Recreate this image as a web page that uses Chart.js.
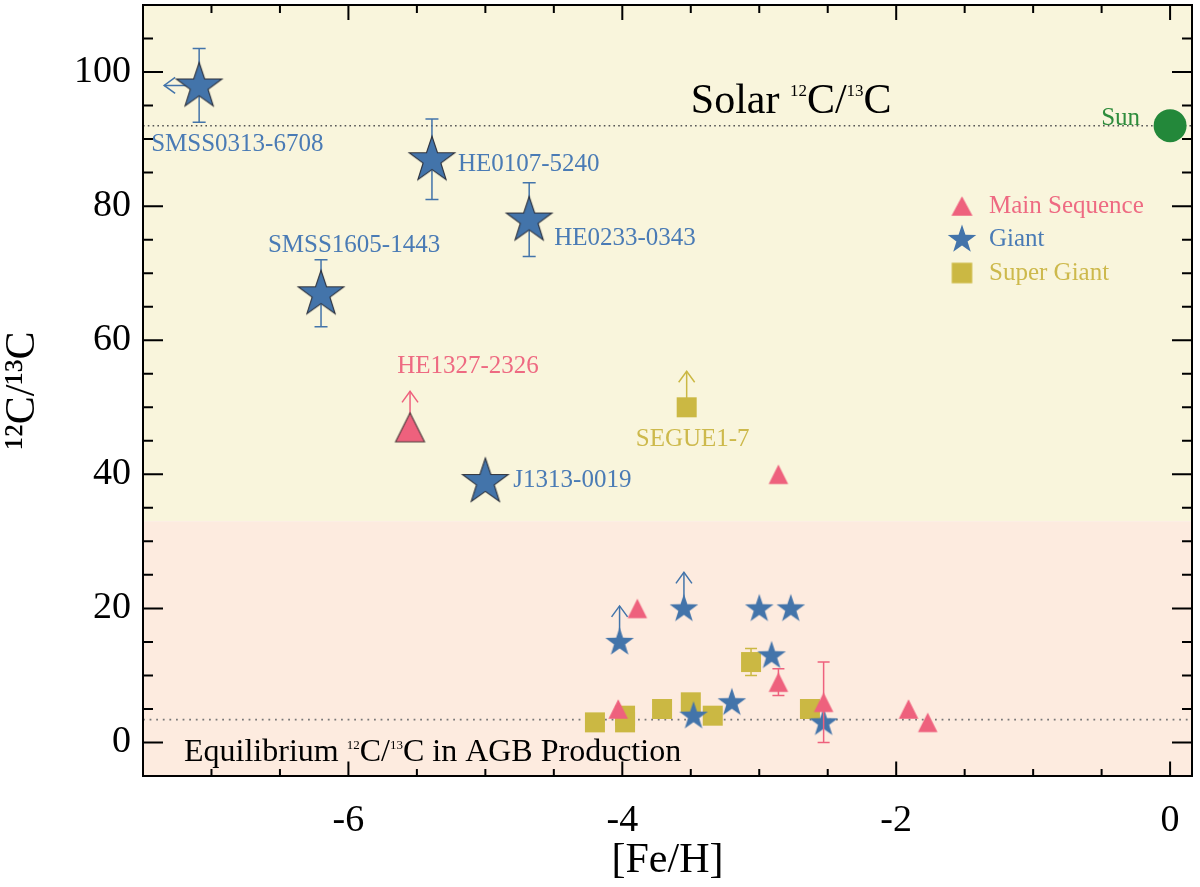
<!DOCTYPE html>
<html>
<head>
<meta charset="utf-8">
<script src="https://cdn.jsdelivr.net/npm/chart.js@4.4.1/dist/chart.umd.min.js"></script>
<style>
html,body{margin:0;padding:0;background:#fff;}
#wrap{width:1200px;height:887px;}
</style>
</head>
<body>
<div id="wrap"><canvas id="c" width="1200" height="887"></canvas></div>
<script>
// ---------------- data ----------------
const mainSeqFeH   = [-5.55, -2.86, -3.89, -4.03, -2.86, -2.53, -1.91, -1.77];
const mainSeqRatio = [47, 40, 20, 5, 9, 6, 5, 3];
const mainSeqErr   = [0, 0, 0, 0, 2, 6, 0, 0];
const mainSeqLimit = ['up', '', '', '', '', '', '', ''];
const mainSeqName  = ['HE1327-2326', '', '', '', '', '', '', ''];

const giantFeH   = [-7.09, -5.39, -4.68, -6.20, -5.00, -4.02, -3.55, -3.00, -2.77, -2.91, -3.20, -3.48, -2.53];
const giantRatio = [98, 87, 78, 67, 39, 15, 20, 20, 20, 13, 6, 4, 3];
const giantErr   = [5.5, 6, 5.5, 5, 0, 0, 0, 0, 0, 0, 0, 0, 0];
const giantLimit = ['left', '', '', '', '', 'up', 'up', '', '', '', '', '', ''];
const giantName  = ['SMSS0313-6708', 'HE0107-5240', 'HE0233-0343', 'SMSS1605-1443', 'J1313-0019', '', '', '', '', '', '', '', ''];

const superGiantFeH   = [-3.53, -4.20, -3.98, -3.98, -3.71, -3.50, -3.34, -3.06, -2.63];
const superGiantRatio = [50, 3, 4, 3, 5, 6, 4, 12, 5];
const superGiantErr   = [0, 0, 0, 0, 0, 0, 0, 2, 0];
const superGiantLimit = ['up', '', '', '', '', '', '', '', ''];
const superGiantName  = ['SEGUE1-7', '', '', '', '', '', '', '', ''];

const sunFeH   = [0];
const sunRatio = [92];
const sunName  = ['Sun'];

const solarRatio  = 92;
const agbRatio    = 3.4;
const regionSplit = 33;

const seriesNames = ['Main Sequence', 'Giant', 'Super Giant'];
const xTickValues = [-6, -4, -2, 0];
const yTickValues = [0, 20, 40, 60, 80, 100];
const xMinorStep = 0.5;
const yMinorStep = 5;

// ---------------- styles / layout ----------------
const SERIF = "'Liberation Serif', 'Times New Roman', serif";
const COL = {ms:'#ee617d', g:'#4374aa', sg:'#cbb843', sun:'#23883a'};
const TXT = {ms:'#ee6a82', g:'#4a7bb5', sg:'#cdb94c', sun:'#2e8c3c'};
const labelLayout = {
  'SMSS0313-6708': {dx:-48, dy:59, align:'left'},
  'HE0107-5240':   {dx:26,  dy:5,  align:'left'},
  'HE0233-0343':   {dx:25,  dy:19, align:'left'},
  'SMSS1605-1443': {dx:33,  dy:-48, align:'center'},
  'J1313-0019':    {dx:28,  dy:-1, align:'left'},
  'HE1327-2326':   {dx:58,  dy:-61, align:'center'},
  'SEGUE1-7':      {dx:6,   dy:32, align:'center'},
  'Sun':           {dx:-30, dy:-7, align:'right'}
};

// ---------------- marker images ----------------
function mk(w, h) { const c = document.createElement('canvas'); c.width = w; c.height = h; return c; }
function makeStar(R, fill, stroke) {
  const s = Math.ceil(2 * R + 4); const c = mk(s, s); const ctx = c.getContext('2d');
  const cx = s / 2, cy = s / 2 + 0.04 * R, r = R * 0.39;
  ctx.beginPath();
  for (let i = 0; i < 10; i++) {
    const a = -Math.PI / 2 + i * Math.PI / 5, rr = i % 2 ? r : R;
    ctx.lineTo(cx + rr * Math.cos(a), cy + rr * Math.sin(a));
  }
  ctx.closePath(); ctx.fillStyle = fill; ctx.fill();
  if (stroke) { ctx.lineWidth = 1.1; ctx.strokeStyle = stroke; ctx.lineJoin = 'miter'; ctx.stroke(); }
  return c;
}
function makeTri(w, h, fill, stroke) {
  const cw = Math.ceil(w + 4), ch = Math.ceil(h + 4); const c = mk(cw, ch); const ctx = c.getContext('2d');
  const cx = cw / 2, cy = ch / 2;
  ctx.beginPath(); ctx.moveTo(cx, cy - h / 2); ctx.lineTo(cx + w / 2, cy + h / 2); ctx.lineTo(cx - w / 2, cy + h / 2); ctx.closePath();
  ctx.fillStyle = fill; ctx.fill();
  if (stroke) { ctx.lineWidth = 1.1; ctx.strokeStyle = stroke; ctx.stroke(); }
  return c;
}
function makeSq(sz, fill) {
  const s = Math.ceil(sz + 2); const c = mk(s, s); const ctx = c.getContext('2d');
  ctx.fillStyle = fill; ctx.fillRect((s - sz) / 2, (s - sz) / 2, sz, sz); return c;
}
const IMG = {
  starBig: makeStar(24, COL.g, '#2b2f3a'),
  starSmall: makeStar(15, COL.g, null),
  starLegend: makeStar(15, COL.g, null),
  triBig: makeTri(29, 29, COL.ms, '#4a3a3a'),
  triSmall: makeTri(19.5, 19.5, COL.ms, null),
  triLegend: makeTri(21, 19.5, COL.ms, null),
  sq: makeSq(20, COL.sg),
  sqLegend: makeSq(20.5, COL.sg)
};

function pts(xs, ys) { return xs.map((x, i) => ({x: x, y: ys[i]})); }

// ---------------- helpers ----------------
function drawRich(ctx, parts, x, baseline, main, sup, color) {
  ctx.save(); ctx.fillStyle = color; ctx.textAlign = 'left'; ctx.textBaseline = 'alphabetic';
  const raise = 0.662 * main - 0.676 * sup;
  let cx = x;
  for (const [t, isSup] of parts) {
    ctx.font = (isSup ? sup : main) + 'px ' + SERIF;
    ctx.fillText(t, cx, isSup ? baseline - raise : baseline);
    cx += ctx.measureText(t).width;
  }
  ctx.restore();
}
function arrowHead(ctx, tx, ty, dir) {
  const L = 11, W = 8;
  ctx.beginPath();
  if (dir === 'up') { ctx.moveTo(tx - W, ty + L); ctx.lineTo(tx, ty); ctx.lineTo(tx + W, ty + L); }
  else { ctx.moveTo(tx + L, ty - W); ctx.lineTo(tx, ty); ctx.lineTo(tx + L, ty + W); }
  ctx.stroke();
}

const deco = {
  id: 'deco',
  beforeDatasetsDraw(chart) {
    const {ctx, chartArea: a, scales: {x: xs, y: ys}} = chart;
    const sp = ys.getPixelForValue(regionSplit);
    ctx.save();
    ctx.fillStyle = '#f9f5dc'; ctx.fillRect(a.left, a.top, a.right - a.left, sp - a.top);
    ctx.fillStyle = '#fdebdf'; ctx.fillRect(a.left, sp, a.right - a.left, a.bottom - sp);
    ctx.strokeStyle = '#555'; ctx.lineWidth = 1.6;
    ctx.setLineDash([1.6, 3.2]);
    let py = ys.getPixelForValue(solarRatio);
    ctx.beginPath(); ctx.moveTo(a.left, py); ctx.lineTo(a.right, py); ctx.stroke();
    ctx.strokeStyle = '#777'; ctx.lineWidth = 1.8; ctx.setLineDash([1.8, 4.8]);
    py = ys.getPixelForValue(agbRatio);
    ctx.beginPath(); ctx.moveTo(a.left, py); ctx.lineTo(a.right, py); ctx.stroke();
    ctx.restore();
  },
  beforeDatasetDraw(chart, args) {
    const ds = chart.data.datasets[args.index];
    if (!ds.errors && !ds.limits) return;
    const {ctx, scales: {y: ys}} = chart;
    ctx.save(); ctx.strokeStyle = ds.borderColor; ctx.lineWidth = 1.5; ctx.setLineDash([]);
    args.meta.data.forEach((el, i) => {
      const e = ds.errors ? ds.errors[i] : 0;
      const v = ds.data[i].y;
      if (e > 0) {
        const y1 = ys.getPixelForValue(v - e), y2 = ys.getPixelForValue(v + e);
        const cw = ds.names[i] ? 6.5 : 6;
        ctx.beginPath();
        ctx.moveTo(el.x, y1); ctx.lineTo(el.x, y2);
        ctx.moveTo(el.x - cw, y1); ctx.lineTo(el.x + cw, y1);
        ctx.moveTo(el.x - cw, y2); ctx.lineTo(el.x + cw, y2);
        ctx.stroke();
      }
      const lim = ds.limits ? ds.limits[i] : '';
      if (lim === 'up') {
        ctx.beginPath(); ctx.moveTo(el.x, el.y); ctx.lineTo(el.x, el.y - 36); ctx.stroke();
        arrowHead(ctx, el.x, el.y - 36, 'up');
      } else if (lim === 'left') {
        ctx.beginPath(); ctx.moveTo(el.x, el.y); ctx.lineTo(el.x - 35, el.y); ctx.stroke();
        arrowHead(ctx, el.x - 35, el.y, 'left');
      }
    });
    ctx.restore();
  },
  afterDatasetsDraw(chart) {
    const {ctx, chartArea: a, scales: {x: xs, y: ys}} = chart;
    ctx.save();
    chart.data.datasets.forEach((ds, di) => {
      const meta = chart.getDatasetMeta(di);
      (ds.names || []).forEach((n, i) => {
        if (!n) return;
        const L = labelLayout[n] || {dx: 20, dy: 0, align: 'left'};
        const el = meta.data[i];
        ctx.font = '25px ' + SERIF; ctx.fillStyle = ds.textColor;
        ctx.textAlign = L.align; ctx.textBaseline = 'middle';
        ctx.fillText(n, el.x + L.dx, el.y + L.dy);
      });
    });
    drawRich(ctx, [['Solar ', 0], ['12', 1], ['C/', 0], ['13', 1], ['C', 0]],
      xs.getPixelForValue(-3.5), ys.getPixelForValue(solarRatio) - 13, 42, 17, '#000');
    drawRich(ctx, [['Equilibrium ', 0], ['12', 1], ['C/', 0], ['13', 1], ['C in AGB Production', 0]],
      a.left + 41, a.bottom - 15, 32, 13, '#000');
    const lx = a.right - 230, tx = a.right - 203;
    const rows = [[IMG.triLegend, TXT.ms, a.top + 201], [IMG.starLegend, TXT.g, a.top + 234], [IMG.sqLegend, TXT.sg, a.top + 268]];
    rows.forEach((r, i) => {
      ctx.drawImage(r[0], lx - r[0].width / 2, r[2] - r[0].height / 2);
      ctx.font = '25px ' + SERIF; ctx.fillStyle = r[1]; ctx.textAlign = 'left'; ctx.textBaseline = 'middle';
      ctx.fillText(seriesNames[i], tx, r[2]);
    });
    ctx.restore();
  },
  afterDraw(chart) {
    const {ctx, chartArea: a, scales: {x: xs, y: ys}} = chart;
    ctx.save(); ctx.strokeStyle = '#000'; ctx.lineWidth = 2; ctx.setLineDash([]);
    ctx.strokeRect(a.left, a.top, a.right - a.left, a.bottom - a.top);
    ctx.beginPath();
    const xMin = Math.ceil(xs.min / xMinorStep) * xMinorStep;
    for (let v = xMin; v <= xs.max + 1e-9; v += xMinorStep) {
      const p = xs.getPixelForValue(v);
      const major = xTickValues.some(t => Math.abs(t - v) < 1e-6);
      const lb = major ? 14.5 : 7, lt = major ? 15 : 8;
      ctx.moveTo(p, a.bottom); ctx.lineTo(p, a.bottom - lb);
      ctx.moveTo(p, a.top); ctx.lineTo(p, a.top + lt);
    }
    const yMin = Math.ceil(ys.min / yMinorStep) * yMinorStep;
    for (let v = yMin; v <= ys.max + 1e-9; v += yMinorStep) {
      const p = ys.getPixelForValue(v);
      const major = yTickValues.some(t => Math.abs(t - v) < 1e-6);
      const l = major ? 20 : 10;
      ctx.moveTo(a.left, p); ctx.lineTo(a.left + l, p);
      ctx.moveTo(a.right, p); ctx.lineTo(a.right - l, p);
    }
    ctx.stroke();
    ctx.restore();
  }
};

const chart = new Chart(document.getElementById('c'), {
  type: 'scatter',
  data: {
    datasets: [
      {
        label: seriesNames[0], data: pts(mainSeqFeH, mainSeqRatio),
        errors: mainSeqErr, limits: mainSeqLimit, names: mainSeqName, textColor: TXT.ms,
        borderColor: COL.ms, backgroundColor: COL.ms, pointRadius: 10,
        pointStyle: c => mainSeqName[c.dataIndex] ? IMG.triBig : IMG.triSmall
      },
      {
        label: seriesNames[1], data: pts(giantFeH, giantRatio),
        errors: giantErr, limits: giantLimit, names: giantName, textColor: TXT.g,
        borderColor: COL.g, backgroundColor: COL.g, pointRadius: 10,
        pointStyle: c => giantName[c.dataIndex] ? IMG.starBig : IMG.starSmall
      },
      {
        label: seriesNames[2], data: pts(superGiantFeH, superGiantRatio),
        errors: superGiantErr, limits: superGiantLimit, names: superGiantName, textColor: TXT.sg,
        borderColor: COL.sg, backgroundColor: COL.sg, pointRadius: 10,
        pointStyle: IMG.sq
      },
      {
        label: 'Sun', data: pts(sunFeH, sunRatio), names: sunName, textColor: TXT.sun,
        borderColor: COL.sun, backgroundColor: COL.sun, borderWidth: 0, pointRadius: 16.5,
        pointStyle: 'circle'
      }
    ]
  },
  options: {
    responsive: false, animation: false, events: [],
    layout: {autoPadding: false, padding: {left: 0, right: 8, top: 5, bottom: 0}},
    plugins: {legend: {display: false}, tooltip: {enabled: false}},
    scales: {
      x: {
        type: 'linear', position: 'bottom', min: -7.5, max: 0.16,
        grid: {display: false, drawTicks: false}, border: {display: false},
        afterBuildTicks: s => { s.ticks = xTickValues.map(v => ({value: v})); },
        afterFit: s => { s.height = 111; s.paddingLeft = 0; s.paddingRight = 0; s.paddingTop = 0; s.paddingBottom = 0; },
        ticks: {color: '#000', padding: 22, font: {family: SERIF, size: 38}},
        title: {display: true, text: '[Fe/H]', color: '#000', font: {family: SERIF, size: 42}, padding: {top: 0, bottom: 1}}
      },
      y: {
        type: 'linear', position: 'left', min: -5, max: 110,
        grid: {display: false, drawTicks: false}, border: {display: false},
        afterBuildTicks: s => { s.ticks = yTickValues.map(v => ({value: v})); },
        afterFit: s => { s.width = 143; s.paddingLeft = 0; s.paddingRight = 0; s.paddingTop = 0; s.paddingBottom = 0; },
        ticks: {color: '#000', padding: 12, font: {family: SERIF, size: 38}},
        title: {display: true, text: '¹²C/¹³C', color: '#000', font: {family: SERIF, size: 42, lineHeight: 1}, padding: {top: 1.5, bottom: 0}}
      }
    }
  },
  plugins: [deco]
});
</script>
</body>
</html>
